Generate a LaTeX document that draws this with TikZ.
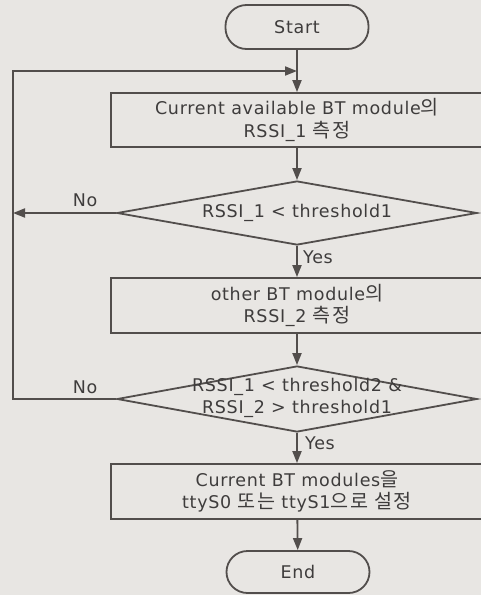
\documentclass[tikz,border=0pt]{standalone}
\usepackage{fontspec}
\setmainfont{DejaVu Sans}[LetterSpace=4]
\newfontfamily\kr{Noto Sans CJK KR}[Scale=1.12,LetterSpace=8]
\usetikzlibrary{shapes.geometric,arrows.meta}
\definecolor{bgc}{RGB}{232,230,227}
\definecolor{linec}{RGB}{82,78,76}
\definecolor{textc}{RGB}{62,60,60}
\tikzset{
  flow/.style={draw=linec, line width=1.8pt},
  term/.style={flow, rectangle, rounded corners=21pt, minimum width=143pt, inner sep=0pt, text=textc},
  proc/.style={flow, rectangle, minimum width=372pt, inner sep=0pt, align=center, text=textc},
  dec/.style={flow, diamond, inner sep=0pt},
  dtext/.style={align=center, text=textc, inner sep=0pt},
  lab/.style={text=textc, inner sep=0pt},
  conn/.style={draw=linec, line width=1.8pt, -{Triangle[length=12pt,width=9pt]}},
}
\begin{document}
\begin{tikzpicture}[x=1pt,y=-1pt, font=\fontsize{17.5}{22.5}\selectfont]
\fill[bgc] (0,0) rectangle (481,595);
\useasboundingbox (0,0) rectangle (481,595);
\clip (0,0) rectangle (481,595);
\node[term, minimum height=44pt] (start) at (297,27) {Start};
\node[proc, minimum height=54pt] (b1) at (297,120) {Current available BT module{\kr 의}\\RSSI\_1 {\kr 측정}};
\node[dec, minimum width=360pt, minimum height=64pt] (d1) at (297,213) {};
\node[dtext] (d1t) at (297,213) {RSSI\_1 < threshold1};
\node[proc, minimum height=55pt] (b2) at (297,305.5) {other BT module{\kr 의}\\RSSI\_2 {\kr 측정}};
\node[dec, minimum width=360pt, minimum height=66pt] (d2) at (297,399) {};
\node[dtext] (d2t) at (297,398) {RSSI\_1 < threshold2 \&\\RSSI\_2 > threshold1};
\node[proc, minimum height=55pt] (b3) at (297,491.5) {Current BT modules{\kr 을}\\ttyS0 {\kr 또는} ttyS1{\kr 으로 설정}};
\node[term, minimum height=42pt] (end) at (298,572) {End};
\coordinate (noleft) at (13,213);
\coordinate (lb) at (13,399);
\coordinate (lt) at (13,71);
\coordinate (join) at (297,71);
\draw[conn] (start) -- (b1);
\draw[conn] (b1) -- (d1.north);
\draw[conn] (d1.south) -- (b2);
\draw[conn] (b2) -- (d2.north);
\draw[conn] (d2.south) -- (b3);
\draw[conn] (b3) -- (end);
\draw[conn] (d1.west) -- (noleft);
\draw[conn] (d2.west) -- (lb) -- (lt) -- (join);
\node[lab] (no1) at (85,200) {No};
\node[lab] (no2) at (85,387) {No};
\node[lab] (yes1) at (318,257) {Yes};
\node[lab] (yes2) at (320,443) {Yes};
\end{tikzpicture}
\end{document}
